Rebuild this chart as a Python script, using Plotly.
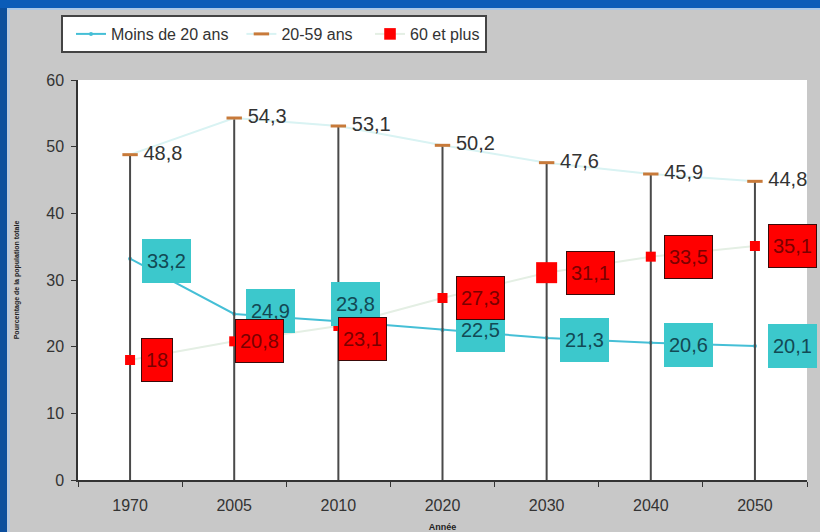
import plotly.graph_objects as go

years = ["1970", "2005", "2010", "2020", "2030", "2040", "2050"]
moins20 = [33.2, 24.9, 23.8, 22.5, 21.3, 20.6, 20.1]
age20_59 = [48.8, 54.3, 53.1, 50.2, 47.6, 45.9, 44.8]
plus60 = [18, 20.8, 23.1, 27.3, 31.1, 33.5, 35.1]

# styling (marker sizes, label placement in pixels)
plus60_marker_sizes = [10, 10, 10, 10, 21, 10, 10]
moins20_label_dx = [36, 36, 17, 38, 38, 38, 38]
moins20_label_dy = [-2, 3, 17, 0, -2, -2, 0]
plus60_label_dx = [27, 25, 24, 38, 44, 38, 38]
plus60_label_dy = [0, 0, -13, 0, 0, 0, 0]
y_ticks = [0, 10, 20, 30, 40, 50, 60]


def fr(v):
    return f"{v:g}".replace(".", ",")


NB = "\u00a0"
fig = go.Figure()

# Moins de 20 ans
fig.add_trace(go.Scatter(
    x=years, y=moins20, name="Moins de 20 ans", mode="lines+markers",
    line=dict(color="#45bfd6", width=2),
    marker=dict(symbol="circle", size=4, color="#45bfd6"),
))

# 20-59 ans: light line, dash markers, drop lines to 0
fig.add_trace(go.Scatter(
    x=years, y=age20_59, name="20-59 ans" + NB, mode="lines+markers+text",
    line=dict(color="#d9f3f3", width=2),
    marker=dict(symbol="line-ew", size=11, line=dict(color="#c87a3a", width=3), color="#c87a3a"),
    error_y=dict(type="data", symmetric=False, array=[0] * len(years), arrayminus=age20_59,
                 color="#4a4a4a", thickness=2, width=0),
    text=[NB + fr(v) for v in age20_59], textposition="middle right",
    textfont=dict(family="Arial", size=20, color="#333333"),
    cliponaxis=False,
))

# 60 et plus
fig.add_trace(go.Scatter(
    x=years, y=plus60, name="60 et plus", mode="lines+markers",
    line=dict(color="#e4efe4", width=2),
    marker=dict(symbol="square", size=plus60_marker_sizes, color="#ff0000",
                opacity=1, line=dict(width=0)),
))

# Boxed labels (cyan first, red on top)
for i, v in enumerate(moins20):
    fig.add_annotation(x=i, y=v, xref="x", yref="y", text=fr(v), showarrow=False,
                       xshift=moins20_label_dx[i], yshift=moins20_label_dy[i],
                       font=dict(family="Arial", size=20, color="#124a55"),
                       bgcolor="#3cc8cc", borderwidth=0,
                       borderpad=5, height=34)
for i, v in enumerate(plus60):
    fig.add_annotation(x=i, y=v, xref="x", yref="y", text=fr(v), showarrow=False,
                       xshift=plus60_label_dx[i], yshift=plus60_label_dy[i],
                       font=dict(family="Arial", size=20, color="#7a0000"),
                       bgcolor="#ff0000", bordercolor="#3a0a0a", borderwidth=1,
                       borderpad=4, height=34)

# blue frame shapes (paper coords relative to plot area)
W, H = 820, 532
L, R, T, B = 78, 13, 80, 52
pw, ph = W - L - R, H - T - B
fig.add_shape(type="rect", xref="paper", yref="paper",
              x0=(-L - 5) / pw, x1=(-L + 7) / pw, y0=(-B - 5) / ph, y1=1 + (T + 5) / ph,
              fillcolor="#0b4f9e", line_width=0, layer="below")
fig.add_shape(type="rect", xref="paper", yref="paper",
              x0=(-L + 7) / pw, x1=(-L + 10) / pw, y0=(-B - 5) / ph, y1=1 + (T - 8) / ph,
              fillcolor="#b8c8dc", line_width=0, layer="below")
fig.add_shape(type="rect", xref="paper", yref="paper",
              x0=(-L - 5) / pw, x1=1 + (R + 5) / pw, y0=1 + (T - 8) / ph, y1=1 + (T + 5) / ph,
              fillcolor="#0b5cb8", line_width=0, layer="below")
fig.add_shape(type="rect", xref="paper", yref="paper",
              x0=(-L + 7) / pw, x1=1 + (R + 5) / pw, y0=1 + (T - 10) / ph, y1=1 + (T - 8) / ph,
              fillcolor="#a9c7e6", line_width=0, layer="below")

fig.update_layout(
    width=W, height=H,
    margin=dict(l=L, r=R, t=T, b=B, autoexpand=False),
    paper_bgcolor="#c8c8c8", plot_bgcolor="#ffffff",
    font=dict(family="Arial", color="#333333"),
    showlegend=True,
    legend=dict(orientation="h", x=(61 - L) / pw, xanchor="left", y=1 + (T - 15) / ph, yanchor="top",
                bgcolor="#ffffff", bordercolor="#444444", borderwidth=2, indentation=8,
                font=dict(family="Arial", size=16, color="#333333"),
                traceorder="normal"),
    xaxis=dict(type="category", range=[-0.5, 6.5], showgrid=False, showline=True,
               linecolor="#333333", linewidth=1.5, ticks="outside", ticklen=5,
               tickcolor="#333333", tickson="boundaries", ticklabelstandoff=10,
               tickfont=dict(family="Arial", size=16, color="#333333"),
               title=dict(text="<b>Année</b>", font=dict(size=9, color="#222222"), standoff=13)),
    yaxis=dict(range=[0, 60], tickvals=y_ticks, showgrid=False, showline=True,
               linecolor="#333333", linewidth=1.5, ticks="outside", ticklen=5,
               tickcolor="#333333", zeroline=False, ticklabelstandoff=4,
               tickfont=dict(family="Arial", size=16, color="#333333"),
               title=dict(text="<b>Pourcentage de la population totale</b>",
                          font=dict(size=7, color="#222222"), standoff=26)),
)

fig.write_html("out.html", config={"displayModeBar": False},
               post_script="document.body.style.margin='0';document.body.style.overflow='hidden';")
